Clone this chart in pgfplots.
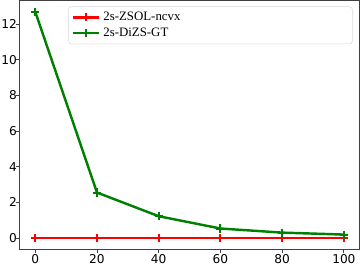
\documentclass[border=0pt]{standalone}
\usepackage{pgfplots}
\pgfplotsset{compat=1.18}
\usepackage{fontspec}
\setmainfont{Liberation Serif}
\newfontfamily\dejavu{DejaVu Sans}
\definecolor{mplgreen}{RGB}{0,128,0}
\begin{document}
\begin{tikzpicture}
\begin{axis}[
  scale only axis,
  width=251pt, height=184pt,
  xmin=-5, xmax=105,
  ymin=-0.635, ymax=13.335,
  xtick={0,20,40,60,80,100},
  ytick={0,2,4,6,8,10,12},
  xtick pos=bottom, ytick pos=left,
  tick label style={font=\dejavu\fontsize{9}{10}\selectfont},
  /pgf/number format/assume math mode=true,
  tick align=outside,
  major tick length=3pt,
  xticklabel style={inner ysep=1.5pt, yshift=1pt},
  yticklabel style={inner xsep=1pt, xshift=2pt},
  axis line style={black!75, line width=0.6pt},
  every tick/.style={black!75, line width=0.6pt},
  legend image code/.code={\draw[mark repeat=2,mark phase=2] plot coordinates {(0cm,0cm) (0.35cm,0cm) (0.7cm,0cm)};},
  legend style={at={(0.143,0.976)}, anchor=north west, draw=black!15, rounded corners=2pt,
    font=\fontsize{9.5}{13}\selectfont, cells={anchor=west}, inner xsep=2pt, inner ysep=2pt,
    text width=180pt},
  legend cell align=left,
]
\addplot[red, line width=1.8pt, mark=+, mark size=3pt, mark options={line width=1.5pt}]
  coordinates {(0,0) (20,0) (40,0) (60,0) (80,0) (100,0)};
\addlegendentry{2s-ZSOL-ncvx}
\addplot[mplgreen, line width=1.8pt, mark=+, mark size=3pt, mark options={line width=1.5pt}]
  coordinates {(0,12.7) (20,2.55) (40,1.22) (60,0.53) (80,0.30) (100,0.19)};
\addlegendentry{2s-DiZS-GT}
\end{axis}
\end{tikzpicture}
\end{document}
